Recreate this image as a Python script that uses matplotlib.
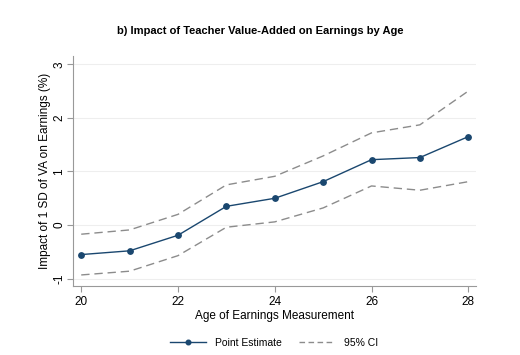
import matplotlib
matplotlib.use("Agg")
import matplotlib.pyplot as plt
from matplotlib.lines import Line2D

plt.rcParams['font.family'] = ['Liberation Sans', 'DejaVu Sans']

ages = [20, 21, 22, 23, 24, 25, 26, 27, 28]
point_est = [-0.55, -0.48, -0.19, 0.35, 0.50, 0.81, 1.22, 1.26, 1.65]
ci_upper = [-0.17, -0.09, 0.20, 0.75, 0.91, 1.29, 1.72, 1.87, 2.50]
ci_lower = [-0.93, -0.86, -0.57, -0.04, 0.06, 0.32, 0.73, 0.65, 0.81]
xticks = [20, 22, 24, 26, 28]
yticks = [-1, 0, 1, 2, 3]

fig = plt.figure(figsize=(5.2, 3.55), dpi=100)
ax = fig.add_axes([0.1404, 0.1944, 0.775, 0.648])

navy = '#1a476f'
gray = '#8c8c8c'

for yt in yticks:
    ax.axhline(yt, color='#eeeeee', lw=0.8, zorder=0)

ax.plot(ages, ci_upper, color=gray, lw=1.0, dashes=(6, 3.5), zorder=2)
ax.plot(ages, ci_lower, color=gray, lw=1.0, dashes=(6, 3.5), zorder=2)
ax.plot(ages, point_est, color=navy, lw=1.0, marker='o', ms=3.9, zorder=3)

ax.set_xlim(19.83, 28.16)
ax.set_ylim(-1.136, 3.155)
ax.set_xticks(xticks)
ax.set_yticks(yticks)
ax.set_yticklabels([str(v) for v in yticks], rotation=90, va='center')

for s in ['top', 'right']:
    ax.spines[s].set_visible(False)
for s in ['left', 'bottom']:
    ax.spines[s].set_color('#999999')
    ax.spines[s].set_linewidth(0.8)
ax.tick_params(axis='both', colors='#999999', labelcolor='black', labelsize=8.5, length=4, width=0.8)
ax.tick_params(axis='y', pad=1.5)

ax.set_xlabel('Age of Earnings Measurement', fontsize=8.5, labelpad=1.5)
ax.set_ylabel('Impact of 1 SD of VA on Earnings (%)', fontsize=8.5, labelpad=2)

fig.text(0.5, 1 - 31/355, 'b) Impact of Teacher Value-Added on Earnings by Age',
         ha='center', va='center', fontsize=8, fontweight='bold')

handles = [Line2D([], [], color=navy, lw=1.0, marker='o', ms=3.3),
           Line2D([], [], color=gray, lw=1.0, dashes=(4, 2.5))]
fig.legend(handles, ['Point Estimate', '95% CI'], loc='center',
           bbox_to_anchor=(274/520, 1 - 343/355), ncol=2, frameon=False,
           fontsize=7.5, handlelength=3.4, columnspacing=1.6, handletextpad=0.9)

fig.savefig('out.png', dpi=100)
